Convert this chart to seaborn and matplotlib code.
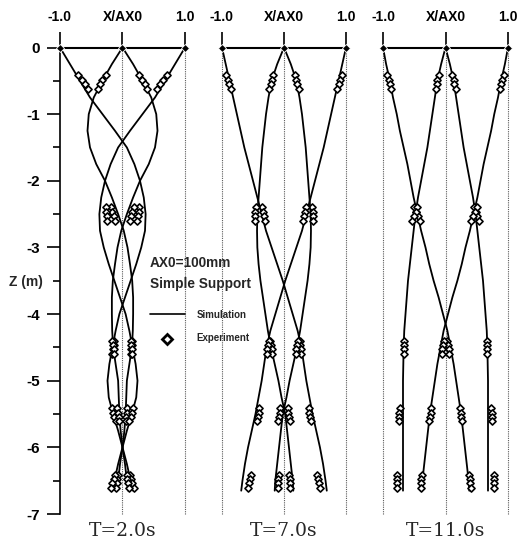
import numpy as np
import pandas as pd
import matplotlib
matplotlib.use("Agg")
import matplotlib.pyplot as plt
import seaborn as sns

sns.set_style("white")
plt.rcParams['font.family'] = ['Liberation Sans', 'DejaVu Sans']
plt.rcParams['axes.edgecolor'] = 'black'
plt.rcParams['xtick.color'] = 'black'
plt.rcParams['ytick.color'] = 'black'

# depth of the simulation points (m)
z_sim = [0.0, -0.25, -0.5, -0.75, -1.0, -1.25, -1.5, -1.75, -2.0, -2.25,
         -2.5, -2.75, -3.0, -3.25, -3.5, -3.75, -4.0, -4.25, -4.5, -4.75,
         -5.0, -5.25, -5.5, -5.75, -6.0, -6.25, -6.5, -6.65]

# T=2.0s, simulation X/AX0 (curves starting at -1, 0 left, 0 right, +1)
t2_a = [-1.0, -0.84, -0.68, -0.52, -0.32, -0.12, 0.07, 0.19, 0.28, 0.34,
        0.37, 0.36, 0.30, 0.22, 0.13, 0.04, -0.05, -0.11, -0.16, -0.21,
        -0.24, -0.22, -0.15, -0.07, 0.0, 0.07, 0.13, 0.17]
t2_b = [0.0, -0.17, -0.32, -0.46, -0.54, -0.56, -0.52, -0.42, -0.28, -0.17,
        -0.07, 0.02, 0.08, 0.12, 0.155, 0.17, 0.17, 0.165, 0.15, 0.11,
        0.07, 0.06, 0.05, 0.03, 0.0, -0.04, -0.07, -0.09]
t2_c = [0.0, 0.17, 0.32, 0.46, 0.54, 0.56, 0.52, 0.42, 0.28, 0.17,
        0.07, -0.02, -0.08, -0.12, -0.155, -0.17, -0.17, -0.165, -0.15, -0.11,
        -0.07, -0.06, -0.05, -0.03, 0.0, 0.04, 0.07, 0.09]
t2_d = [1.0, 0.84, 0.68, 0.52, 0.32, 0.12, -0.07, -0.19, -0.28, -0.34,
        -0.37, -0.36, -0.30, -0.22, -0.13, -0.04, 0.05, 0.11, 0.16, 0.21,
        0.24, 0.22, 0.15, 0.07, 0.0, -0.07, -0.13, -0.17]

# T=7.0s
t7_a = [-1.0, -0.94, -0.88, -0.82, -0.76, -0.70, -0.64, -0.57, -0.50, -0.43,
        -0.36, -0.29, -0.20, -0.11, -0.02, 0.06, 0.14, 0.22, 0.28, 0.32,
        0.36, 0.41, 0.46, 0.52, 0.58, 0.63, 0.67, 0.69]
t7_b = [0.0, -0.11, -0.20, -0.25, -0.29, -0.32, -0.35, -0.37, -0.39, -0.41,
        -0.43, -0.435, -0.43, -0.41, -0.38, -0.34, -0.30, -0.26, -0.21, -0.15,
        -0.09, -0.04, 0.02, 0.05, 0.08, 0.11, 0.14, 0.15]
t7_c = [0.0, 0.11, 0.20, 0.25, 0.29, 0.32, 0.35, 0.37, 0.39, 0.41,
        0.43, 0.435, 0.43, 0.41, 0.38, 0.34, 0.30, 0.26, 0.21, 0.15,
        0.09, 0.04, -0.02, -0.05, -0.08, -0.11, -0.14, -0.15]
t7_d = [1.0, 0.94, 0.88, 0.82, 0.76, 0.70, 0.64, 0.57, 0.50, 0.43,
        0.36, 0.29, 0.20, 0.11, 0.02, -0.06, -0.14, -0.22, -0.28, -0.32,
        -0.36, -0.41, -0.46, -0.52, -0.58, -0.63, -0.67, -0.69]

# T=11.0s
t11_a = [-1.0, -0.95, -0.89, -0.84, -0.78, -0.73, -0.67, -0.61, -0.56, -0.51,
         -0.45, -0.39, -0.32, -0.26, -0.19, -0.11, -0.04, 0.03, 0.08, 0.13,
         0.17, 0.21, 0.25, 0.28, 0.31, 0.34, 0.37, 0.38]
t11_b = [0.0, -0.07, -0.13, -0.17, -0.21, -0.25, -0.29, -0.34, -0.39, -0.44,
         -0.48, -0.51, -0.54, -0.57, -0.60, -0.62, -0.64, -0.66, -0.67, -0.675,
         -0.68, -0.68, -0.68, -0.68, -0.68, -0.68, -0.68, -0.68]
t11_c = [0.0, 0.07, 0.13, 0.17, 0.21, 0.25, 0.29, 0.34, 0.39, 0.44,
         0.48, 0.51, 0.54, 0.57, 0.60, 0.62, 0.64, 0.66, 0.67, 0.675,
         0.68, 0.68, 0.68, 0.68, 0.68, 0.68, 0.68, 0.68]
t11_d = [1.0, 0.95, 0.89, 0.84, 0.78, 0.73, 0.67, 0.61, 0.56, 0.51,
         0.45, 0.39, 0.32, 0.26, 0.19, 0.11, 0.04, -0.03, -0.08, -0.13,
         -0.17, -0.21, -0.25, -0.28, -0.31, -0.34, -0.37, -0.38]

# depth of the measurement points (m)
exp_z = [-0.42, -0.49, -0.55, -0.62, -2.40, -2.47, -2.53, -2.60,
         -4.40, -4.47, -4.53, -4.60, -5.41, -5.48, -5.54, -5.61,
         -6.41, -6.48, -6.54, -6.61]

e2_a = [-0.71, -0.65, -0.60, -0.55, 0.27, 0.26, 0.25, 0.24, -0.13, -0.14,
        -0.15, -0.16, -0.17, -0.15, -0.13, -0.11, 0.12, 0.14, 0.16, 0.18]
e2_b = [-0.26, -0.32, -0.36, -0.39, -0.18, -0.16, -0.14, -0.12, 0.16, 0.15,
        0.14, 0.13, 0.08, 0.07, 0.06, 0.05, -0.07, -0.08, -0.09, -0.10]
e2_c = [0.26, 0.32, 0.36, 0.39, 0.18, 0.16, 0.14, 0.12, -0.16, -0.15,
        -0.14, -0.13, -0.08, -0.07, -0.06, -0.05, 0.07, 0.08, 0.09, 0.10]
e2_d = [0.71, 0.65, 0.60, 0.55, -0.27, -0.26, -0.25, -0.24, 0.13, 0.14,
        0.15, 0.16, 0.17, 0.15, 0.13, 0.11, -0.12, -0.14, -0.16, -0.18]

e7_a = [-0.94, -0.91, -0.89, -0.86, -0.36, -0.34, -0.32, -0.30, 0.25, 0.26,
        0.27, 0.28, 0.40, 0.41, 0.42, 0.43, 0.53, 0.55, 0.56, 0.58]
e7_b = [-0.17, -0.19, -0.21, -0.24, -0.45, -0.46, -0.46, -0.47, -0.22, -0.21,
        -0.20, -0.19, 0.06, 0.07, 0.08, 0.09, 0.08, 0.09, 0.10, 0.10]
e7_c = [0.17, 0.19, 0.21, 0.24, 0.45, 0.46, 0.46, 0.47, 0.22, 0.21,
        0.20, 0.19, -0.06, -0.07, -0.08, -0.09, -0.08, -0.09, -0.10, -0.10]
e7_d = [0.94, 0.91, 0.89, 0.86, 0.36, 0.34, 0.32, 0.30, -0.25, -0.26,
        -0.27, -0.28, -0.40, -0.41, -0.42, -0.43, -0.53, -0.55, -0.56, -0.58]

e11_a = [-0.93, -0.91, -0.89, -0.87, -0.50, -0.47, -0.44, -0.41, 0.03, 0.04,
         0.05, 0.06, 0.23, 0.24, 0.25, 0.26, 0.38, 0.39, 0.39, 0.40]
e11_b = [-0.11, -0.13, -0.14, -0.16, -0.46, -0.48, -0.50, -0.53, -0.67, -0.67,
         -0.67, -0.67, -0.73, -0.74, -0.74, -0.74, -0.77, -0.77, -0.77, -0.77]
e11_c = [0.11, 0.13, 0.14, 0.16, 0.46, 0.48, 0.50, 0.53, 0.67, 0.67,
         0.67, 0.67, 0.73, 0.74, 0.74, 0.74, 0.77, 0.77, 0.77, 0.77]
e11_d = [0.93, 0.91, 0.89, 0.87, 0.50, 0.47, 0.44, 0.41, -0.03, -0.04,
         -0.05, -0.06, -0.23, -0.24, -0.25, -0.26, -0.38, -0.39, -0.39, -0.40]

# top (support) positions
top_x = [-1.0, 0.0, 1.0]
top_z = [0.0, 0.0, 0.0]

titles = ["T=2.0s", "T=7.0s", "T=11.0s"]
x_labels = ["-1.0", "X/AX0", "1.0"]
y_ticks = [0, -1, -2, -3, -4, -5, -6, -7]

sim_sets = [[t2_a, t2_b, t2_c, t2_d], [t7_a, t7_b, t7_c, t7_d],
            [t11_a, t11_b, t11_c, t11_d]]
exp_sets = [[e2_a, e2_b, e2_c, e2_d], [e7_a, e7_b, e7_c, e7_d],
            [e11_a, e11_b, e11_c, e11_d]]

W, H = 523, 544
lefts = [60, 222, 383]
widths = [125, 124, 125]

fig = plt.figure(figsize=(W / 100, H / 100), dpi=100)

axes = []
for i in range(3):
    ax = fig.add_axes([lefts[i] / W, 30 / H, widths[i] / W, 466.5 / H])
    ax.patch.set_visible(False)
    axes.append(ax)

    # guide lines
    for gx in [-1, 0, 1]:
        if i == 0 and gx == -1:
            continue
        ax.axvline(gx, color='0.35', lw=0.8, ls=(0, (1, 1)), zorder=1,
                   clip_on=False)

    sim = pd.DataFrame({
        'x': sum(sim_sets[i], []),
        'z': z_sim * 4,
        'curve': np.repeat(['a', 'b', 'c', 'd'], len(z_sim)),
    })
    sns.lineplot(data=sim, x='x', y='z', units='curve', estimator=None,
                 sort=False, color='black', lw=1.3, ax=ax, legend=False,
                 clip_on=False, zorder=2)

    exp = pd.DataFrame({
        'x': sum(exp_sets[i], []),
        'z': exp_z * 4,
    })
    sns.scatterplot(data=exp, x='x', y='z', marker='D', s=13,
                    facecolor='white', edgecolor='black', linewidth=1.2,
                    ax=ax, zorder=4, clip_on=False, legend=False)

    sns.lineplot(x=top_x, y=top_z, estimator=None, color='black', lw=1.5,
                 marker='D', markersize=3.8, markeredgewidth=0.6, ax=ax,
                 clip_on=False, zorder=5)

    ax.set_xlim(-1, 1)
    ax.set_ylim(-7, 0)
    ax.set_xlabel('')
    ax.set_ylabel('')

    ax.xaxis.set_ticks_position('top')
    ax.set_xticks([-1, 0, 1])
    ax.set_xticklabels(x_labels, fontweight='bold', fontsize=10)
    ax.tick_params(axis='x', top=True, bottom=False, direction='out',
                   length=11.2, width=1.2, pad=6)

    for s in ['top', 'right', 'bottom']:
        ax.spines[s].set_visible(False)

    if i == 0:
        ax.spines['left'].set_linewidth(1.2)
        ax.set_yticks(y_ticks)
        ax.set_yticklabels([str(t) for t in y_ticks], fontweight='bold',
                           fontsize=11)
        ax.set_yticks(np.arange(-6.5, 0, 1), minor=True)
        ax.tick_params(axis='y', which='major', left=True, direction='out',
                       length=9.4, width=1.2, pad=5)
        ax.tick_params(axis='y', which='minor', left=True, direction='out',
                       length=5, width=1.2)
    else:
        ax.spines['left'].set_visible(False)
        ax.set_yticks([])

    ax.text(0, -7.255, titles[i], ha='center', va='center',
            family='DejaVu Serif', fontsize=13.5)

# labels and legend
ax1 = axes[0]
fig.text(26 / W, 1 - 281.7 / H, 'Z (m)', ha='center', va='center',
         fontweight='bold', fontsize=10)
ax1.text(0.44, -3.24, 'AX0=100mm', ha='left', va='center',
         fontweight='bold', fontsize=9.8, zorder=10)
ax1.text(0.44, -3.55, 'Simple Support', ha='left', va='center',
         fontweight='bold', fontsize=9.8, zorder=10)
ax1.plot([0.44, 1.0], [-4.0, -4.0], color='black', lw=1.2, clip_on=False)
ax1.text(1.18, -4.01, 'Simulation', ha='left', va='center',
         fontweight='bold', fontsize=7, zorder=10)
ax1.plot([0.72], [-4.38], marker='D', ms=5, mfc='white', mec='black',
         mew=2, clip_on=False)
ax1.text(1.18, -4.36, 'Experiment', ha='left', va='center',
         fontweight='bold', fontsize=7, zorder=10)

fig.savefig('out.png', dpi=100)
